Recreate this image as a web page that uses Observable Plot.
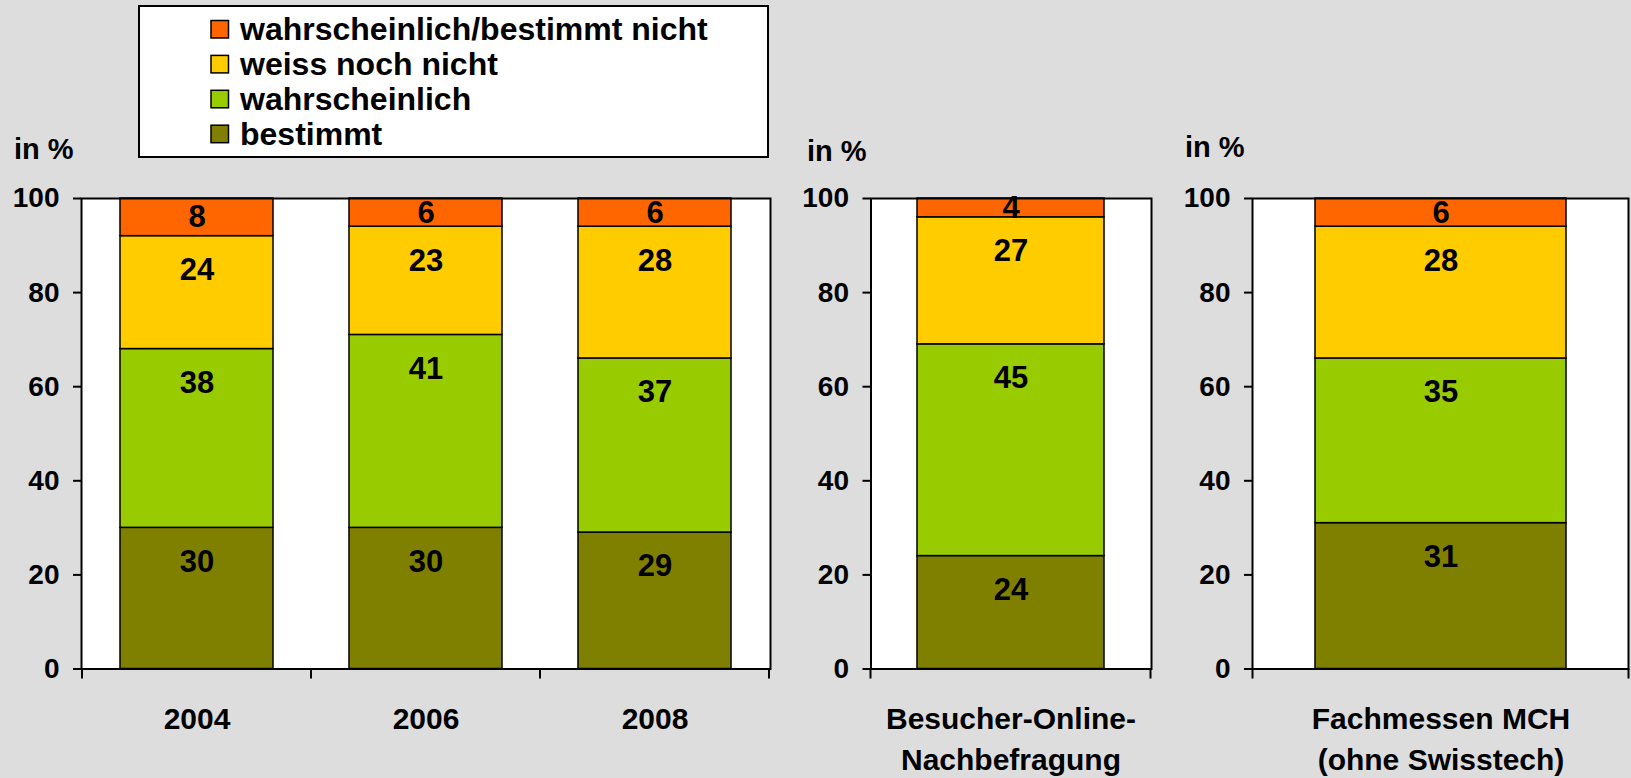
<!DOCTYPE html>
<html>
<head>
<meta charset="utf-8">
<script src="https://cdn.jsdelivr.net/npm/d3@7"></script>
<script src="https://cdn.jsdelivr.net/npm/@observablehq/plot@0.6"></script>
<style>
  html, body { margin: 0; padding: 0; background: #dddddd; }
  #root { position: relative; width: 1631px; height: 778px; overflow: hidden; background: #dddddd;
          font-family: "Liberation Sans", Arial, sans-serif; font-weight: bold; }
  .panel { position: absolute; top: 120px; }
  #overlay { position: absolute; left: 0; top: 0; }
</style>
</head>
<body>
<div id="root"></div>
<script>
// ---- data ----
const seriesNames = ["bestimmt", "wahrscheinlich", "weiss noch nicht", "wahrscheinlich/bestimmt nicht"];
const seriesColors = ["#808000", "#99CC00", "#FFCC00", "#FF6600"];

const yearCategories = ["2004", "2006", "2008"];
const yearBestimmt = [30, 30, 29];
const yearWahrscheinlich = [38, 41, 37];
const yearWeissNochNicht = [24, 23, 28];
const yearNicht = [8, 6, 6];

const onlineCategory = ["Besucher-Online-\nNachbefragung"];
const onlineValues = [24, 45, 27, 4];

const fachmessenCategory = ["Fachmessen MCH\n(ohne Swisstech)"];
const fachmessenValues = [31, 35, 28, 6];

const yTicks = [0, 20, 40, 60, 80, 100];
const axisTitle = "in %";

// ---- helpers ----
const FONT = '"Liberation Sans", Arial, sans-serif';

function rowsFromYears() {
  const cols = [yearBestimmt, yearWahrscheinlich, yearWeissNochNicht, yearNicht];
  const rows = [];
  yearCategories.forEach((cat, i) => {
    seriesNames.forEach((s, j) => rows.push({cat, series: s, value: cols[j][i]}));
  });
  return rows;
}
function rowsFromSingle(cat, values) {
  return seriesNames.map((s, j) => ({cat, series: s, value: values[j]}));
}
// label placement like Excel "inside end": near the top of the segment, centered if segment is small
function labelRows(rows, cats) {
  const out = [];
  for (const cat of cats) {
    let cum = 0;
    for (const r of rows.filter(d => d.cat === cat)) {
      const bottom = cum;
      cum += r.value;
      const mid = (bottom + cum) / 2;
      out.push({...r, ly: Math.max(mid, cum - 7.2)});
    }
  }
  return out;
}

const root = document.getElementById("root");

function panel(rows, cats, {left, width, marginLeft, marginRight}) {
  const H = 658, MT = 78, MB = 109.5;
  const plot = Plot.plot({
    width, height: H, marginTop: MT, marginBottom: MB, marginLeft, marginRight,
    style: {background: "transparent", fontFamily: FONT, fontWeight: "bold", color: "black", overflow: "visible"},
    x: {domain: cats, paddingInner: 1 / 3, paddingOuter: 1 / 6, label: null},
    y: {domain: [0, 100], label: null},
    color: {domain: seriesNames, range: seriesColors},
    marks: [
      Plot.frame({fill: "white"}),
      Plot.barY(rows, {x: "cat", y: "value", z: "series", fill: "series", stroke: "black", strokeWidth: 1.5}),
      Plot.text(labelRows(rows, cats), {x: "cat", y: "ly", text: d => String(d.value),
        fontSize: 31, fontWeight: "bold", fill: "black", fontFamily: FONT}),
      Plot.axisY({ticks: yTicks, tickSize: 8, tickPadding: 14, fontSize: 28, fontWeight: "bold",
        strokeWidth: 2, label: null, fontFamily: FONT}),
      Plot.axisX({tickSize: 0, tickPadding: 31, fontSize: 30, fontWeight: "bold", lineHeight: 1.37,
        lineAnchor: "top", label: null, fontFamily: FONT}),
      Plot.frame({stroke: "black", strokeWidth: 2})
    ]
  });
  // category boundary ticks below the x axis, derived from the band scale
  const xs = plot.scale("x");
  const gap = (xs.step - xs.bandwidth) / 2;
  const edges = xs.domain.map(d => xs.apply(d) - gap);
  edges.push(xs.apply(xs.domain[xs.domain.length - 1]) + xs.bandwidth + gap);
  const yb = H - MB;
  d3.select(plot).append("g").selectAll("line").data(edges).join("line")
    .attr("x1", d => d).attr("x2", d => d).attr("y1", yb).attr("y2", yb + 10)
    .attr("stroke", "black").attr("stroke-width", 2);
  plot.classList.add("panel");
  plot.style.left = left + "px";
  root.appendChild(plot);
}

panel(rowsFromYears(), yearCategories, {left: 0, width: 790, marginLeft: 81, marginRight: 20});
panel(rowsFromSingle(onlineCategory[0], onlineValues), onlineCategory, {left: 790, width: 371, marginLeft: 80.5, marginRight: 10});
panel(rowsFromSingle(fachmessenCategory[0], fachmessenValues), fachmessenCategory, {left: 1161, width: 470, marginLeft: 91, marginRight: 3});

// ---- legend and axis titles ----
const overlay = d3.select(root).append("svg").attr("id", "overlay")
  .attr("width", 1631).attr("height", 200)
  .style("font-family", FONT).style("font-weight", "bold");

overlay.append("rect").attr("x", 139).attr("y", 6).attr("width", 629).attr("height", 151)
  .attr("fill", "white").attr("stroke", "black").attr("stroke-width", 2);

const legendOrder = seriesNames.map((s, i) => ({s, c: seriesColors[i]})).reverse();
const lg = overlay.selectAll("g.item").data(legendOrder).join("g").attr("class", "item")
  .attr("transform", (d, i) => `translate(0,${40 + i * 34.9})`);
lg.append("rect").attr("x", 211).attr("y", -19.5).attr("width", 17.5).attr("height", 17.5)
  .attr("fill", d => d.c).attr("stroke", "black").attr("stroke-width", 1.5);
lg.append("text").attr("x", 240).attr("y", 0).attr("font-size", 32).attr("fill", "black").text(d => d.s);

const titlePos = [[14, 158.5], [807, 160.5], [1185, 157]];
overlay.selectAll("text.ttl").data(titlePos).join("text").attr("class", "ttl")
  .attr("x", d => d[0]).attr("y", d => d[1]).attr("font-size", 29).attr("fill", "black").text(axisTitle);
</script>
</body>
</html>
